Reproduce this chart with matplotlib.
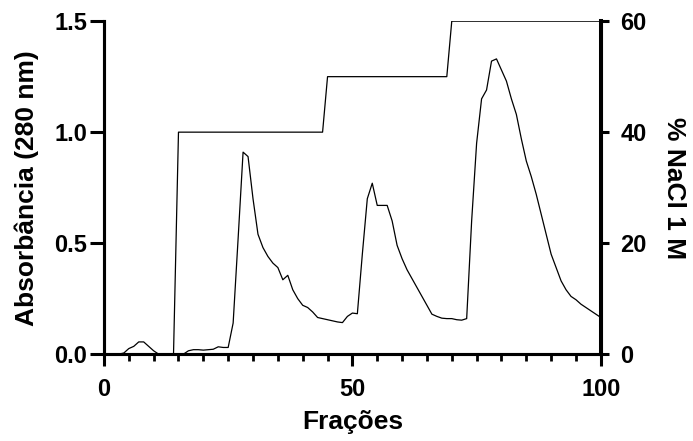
import matplotlib.pyplot as plt
import numpy as np

plt.rcParams['font.family'] = ['Liberation Sans', 'DejaVu Sans']
plt.rcParams['font.weight'] = 'bold'

# Frações e absorbância (280 nm)
fracoes = np.arange(1, 101)
absorbancia = [0.0, 0.0, 0.0, 0.005, 0.025, 0.035, 0.055, 0.055, 0.035, 0.015,
               0.0, 0.0, 0.0, 0.0, 0.0, 0.0, 0.015, 0.02, 0.02, 0.018,
               0.02, 0.022, 0.033, 0.03, 0.03, 0.14, 0.52, 0.91, 0.89, 0.70,
               0.54, 0.48, 0.44, 0.41, 0.39, 0.335, 0.355, 0.29, 0.25, 0.22,
               0.21, 0.19, 0.165, 0.16, 0.155, 0.15, 0.145, 0.142, 0.17, 0.185,
               0.182, 0.45, 0.70, 0.77, 0.67, 0.67, 0.67, 0.60, 0.49, 0.43,
               0.38, 0.34, 0.30, 0.26, 0.22, 0.18, 0.17, 0.162, 0.16, 0.16,
               0.155, 0.153, 0.16, 0.60, 0.95, 1.15, 1.19, 1.32, 1.33, 1.28,
               1.23, 1.15, 1.08, 0.97, 0.87, 0.80, 0.72, 0.63, 0.54, 0.45,
               0.39, 0.33, 0.29, 0.26, 0.245, 0.225, 0.21, 0.195, 0.18, 0.165]

# Gradiente de NaCl (%)
nacl = [0] * 14 + [40] * 30 + [50] * 25 + [60] * 31

fig = plt.figure(figsize=(6.93, 4.41), dpi=100)
ax = fig.add_axes([0.150, 0.197, 0.717, 0.755])
ax2 = ax.twinx()

ax.plot(fracoes, absorbancia, color='black', lw=0.9)
ax2.plot(fracoes, nacl, color='black', lw=0.9)

ax.set_xlim(0, 100)
ax.set_ylim(0, 1.5)
ax2.set_ylim(0, 60)

ax.set_xticks([0, 50, 100])
ax.set_xticks(np.arange(0, 101, 5), minor=True)
ax.set_yticks([0, 0.5, 1.0, 1.5])
ax.set_yticklabels(['0.0', '0.5', '1.0', '1.5'])
ax2.set_yticks([0, 20, 40, 60])

for a in (ax, ax2):
    a.spines['top'].set_visible(False)
    for s in a.spines.values():
        s.set_linewidth(2.2)
ax2.spines['right'].set_linewidth(2.9)

ax.tick_params(axis='x', which='major', length=8.5, width=2.2, labelsize=17, pad=8.5)
ax.tick_params(axis='x', which='minor', length=5, width=2.0)
ax.tick_params(axis='y', length=10, width=2.2, labelsize=17, pad=2)
ax2.tick_params(axis='y', length=6, width=2.2, labelsize=17, pad=8)

ax.set_xlabel('Frações', fontsize=19, fontweight='bold', labelpad=7)
ax.set_ylabel('Absorbância (280 nm)', fontsize=19, fontweight='bold', labelpad=11)
ax2.set_ylabel('% NaCl 1 M', fontsize=19, fontweight='bold', rotation=270, labelpad=28)

fig.savefig('out.png', dpi=100)
